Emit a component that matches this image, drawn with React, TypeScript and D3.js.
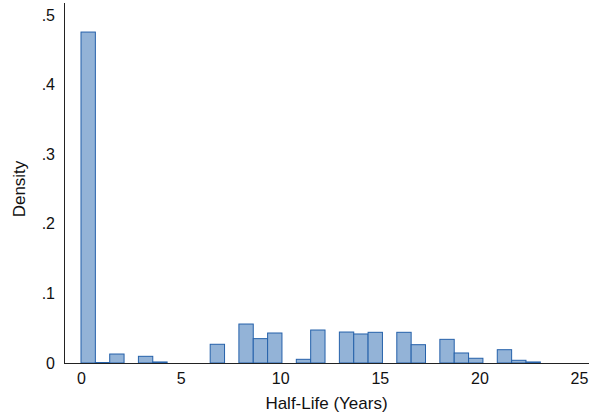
import { useEffect, useRef } from "react"
import * as d3 from "d3"

// histogram: 32 bins starting at 0
const binStart = 0
const binWidth = 0.7206
const densities = [
  0.4755, 0.0007, 0.0129, 0, 0.0096, 0.0015, 0, 0, 0, 0.0269, 0, 0.056, 0.035, 0.0431, 0, 0.0053,
  0.0474, 0, 0.0445, 0.0417, 0.0441, 0, 0.0441, 0.0263, 0, 0.034, 0.0144, 0.0068, 0, 0.0191, 0.0039, 0.0015,
]
const xTicks = [0, 5, 10, 15, 20, 25]
const yTicks = [0, 0.1, 0.2, 0.3, 0.4, 0.5]

const FONT = "Arial, 'Liberation Sans', Helvetica, sans-serif"

export default function App() {
  const svgRef = useRef<SVGSVGElement>(null)

  useEffect(() => {
    if (!svgRef.current) return
    d3.select(svgRef.current).selectAll("*").remove()

    const width = 589
    const height = 417
    const svg = d3.select(svgRef.current).attr("width", width).attr("height", height)

    const x = d3.scaleLinear().domain([0, 25]).range([81, 579])
    const y = d3.scaleLinear().domain([0, 0.5]).range([363, 15])

    svg.append("rect").attr("width", width).attr("height", height).attr("fill", "white")

    // bars
    const bins = densities.map((d, i) => ({ x0: binStart + i * binWidth, x1: binStart + (i + 1) * binWidth, d }))
    svg
      .append("g")
      .selectAll("rect")
      .data(bins.filter((b) => b.d > 0))
      .enter()
      .append("rect")
      .attr("x", (b) => x(b.x0))
      .attr("y", (b) => y(b.d))
      .attr("width", (b) => x(b.x1) - x(b.x0))
      .attr("height", (b) => y(0) - y(b.d))
      .attr("fill", "#93b3d7")
      .attr("stroke", "#2561aa")
      .attr("stroke-width", 1)

    // axis lines
    svg
      .append("line")
      .attr("x1", 64.5)
      .attr("x2", 64.5)
      .attr("y1", 3)
      .attr("y2", 363.5)
      .attr("stroke", "#222")
      .attr("stroke-width", 1)
    svg
      .append("line")
      .attr("x1", 64)
      .attr("x2", width)
      .attr("y1", 363.5)
      .attr("y2", 363.5)
      .attr("stroke", "#222")
      .attr("stroke-width", 1)

    const fmtY = (v: number) => (v === 0 ? "0" : d3.format(".1f")(v).replace(/^0/, ""))

    // y axis labels
    const yAxis = d3
      .axisLeft(y)
      .tickValues(yTicks)
      .tickSize(0)
      .tickPadding(9)
      .tickFormat((v) => fmtY(v as number))
    const yg = svg.append("g").attr("transform", "translate(64,0)").call(yAxis)
    yg.select(".domain").remove()
    yg.selectAll("text").attr("fill", "#111").style("font-family", FONT).style("font-size", "16px")

    // x axis labels
    const xAxis = d3.axisBottom(x).tickValues(xTicks).tickSize(0).tickPadding(10)
    const xg = svg.append("g").attr("transform", "translate(0,363)").call(xAxis)
    xg.select(".domain").remove()
    xg.selectAll("text").attr("fill", "#111").style("font-family", FONT).style("font-size", "16px")

    // axis titles
    svg
      .append("text")
      .attr("x", 326.5)
      .attr("y", 409)
      .attr("text-anchor", "middle")
      .attr("fill", "#111")
      .style("font-family", FONT)
      .style("font-size", "17px")
      .text("Half-Life (Years)")

    svg
      .append("text")
      .attr("transform", "rotate(-90)")
      .attr("x", -189)
      .attr("y", 25)
      .attr("text-anchor", "middle")
      .attr("fill", "#111")
      .style("font-family", FONT)
      .style("font-size", "17px")
      .text("Density")
  }, [])

  return (
    <div style={{ position: "absolute", left: 0, top: 0, width: 589, height: 417 }}>
      <svg ref={svgRef} style={{ display: "block" }}></svg>
    </div>
  )
}
